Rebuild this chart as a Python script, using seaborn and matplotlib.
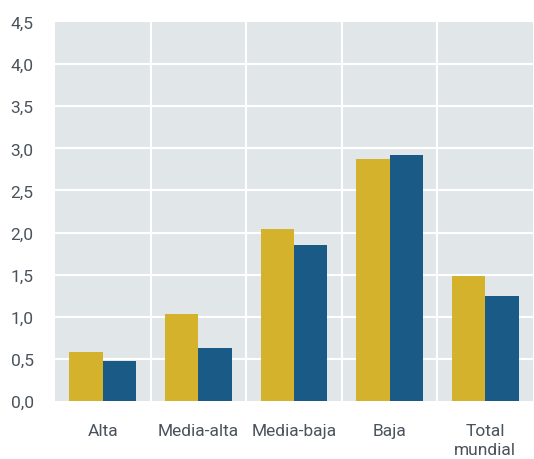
import matplotlib
matplotlib.use("Agg")
import matplotlib.pyplot as plt
import seaborn as sns
import pandas as pd
import numpy as np

categories = ["Alta", "Media-alta", "Media-baja", "Baja", "Total\nmundial"]
series_names = ["Serie 1", "Serie 2"]
serie_1 = [0.58, 1.03, 2.04, 2.87, 1.48]
serie_2 = [0.48, 0.63, 1.85, 2.92, 1.25]
y_ticks = [0.0, 0.5, 1.0, 1.5, 2.0, 2.5, 3.0, 3.5, 4.0, 4.5]

df = pd.DataFrame({
    "categoria": categories * 2,
    "serie": [series_names[0]] * 5 + [series_names[1]] * 5,
    "valor": serie_1 + serie_2,
})

sns.set_style("white")
plt.rcParams["font.family"] = ["Roboto", "DejaVu Sans"]

fig = plt.figure(figsize=(5.34, 4.60), dpi=100)
ax = fig.add_axes([0.103, 0.126, 0.895, 0.824])
ax.set_facecolor("#e1e6e9")

sns.barplot(data=df, x="categoria", y="valor", hue="serie", order=categories,
            hue_order=series_names, palette=["#d5b22c", "#195b86"],
            width=0.70, saturation=1, linewidth=0, ax=ax, legend=False)

ax.set_ylim(0, 4.5)
ax.set_xlim(-0.5, 4.5)
ax.set_yticks(y_ticks)
ax.set_yticklabels([f"{t:.1f}".replace(".", ",") for t in y_ticks])

# white grid: horizontal at ticks, vertical between categories
for t in y_ticks[1:-1]:
    ax.axhline(t, color="white", lw=1.5, zorder=0.5)
for xb in np.arange(0.5, 4.5, 1.0):
    ax.axvline(xb, color="white", lw=1.5, zorder=0.5)

for s in ax.spines.values():
    s.set_visible(False)
ax.tick_params(axis="both", length=0, labelsize=12.5, colors="#4a535c")
ax.tick_params(axis="x", pad=16)
ax.tick_params(axis="y", pad=32)
for lab in ax.get_yticklabels():
    lab.set_horizontalalignment("left")
for lab in ax.get_xticklabels():
    lab.set_linespacing(1.3)
ax.set_xlabel("")
ax.set_ylabel("")

fig.savefig("out.png", dpi=100)
